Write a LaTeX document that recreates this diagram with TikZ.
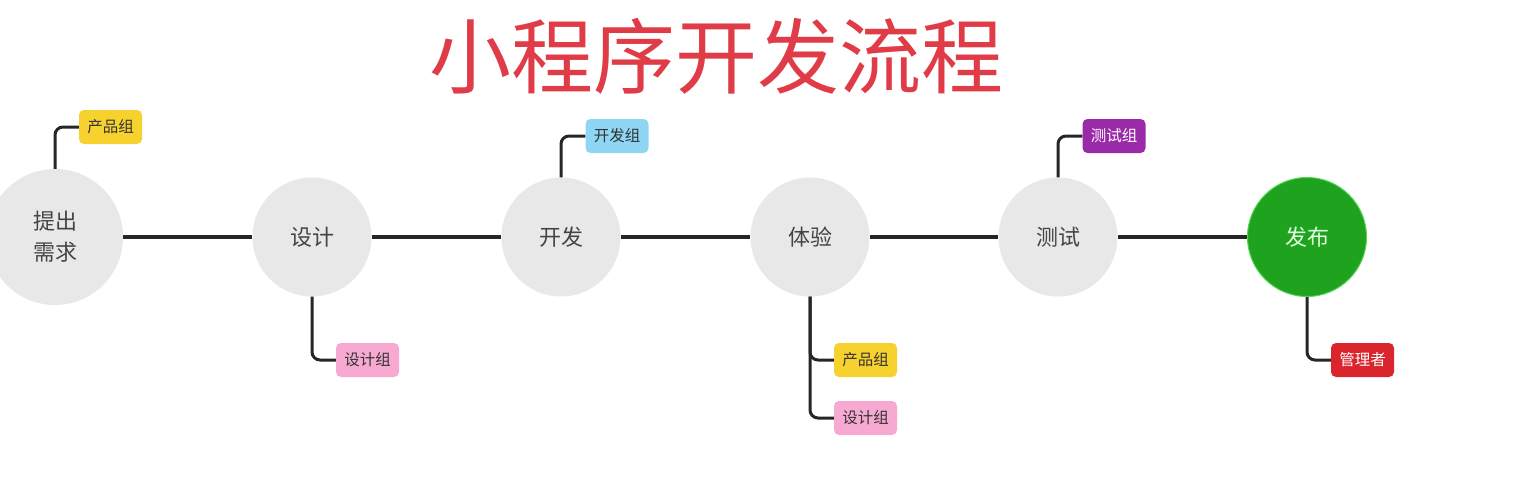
\documentclass[tikz,border=0pt]{standalone}
\usepackage{fontspec}
\setmainfont{Noto Sans CJK SC}
\definecolor{circfill}{HTML}{E8E8E8}
\definecolor{linec}{HTML}{262626}
\definecolor{tyellow}{HTML}{F7D12E}
\definecolor{tpink}{HTML}{F8A9D2}
\definecolor{tblue}{HTML}{8ED6F4}
\definecolor{tpurple}{HTML}{9B2AA8}
\definecolor{tred}{HTML}{D9252B}
\definecolor{pgreen}{HTML}{1FA31F}
\definecolor{pgreenb}{HTML}{55D455}
\definecolor{titlered}{HTML}{E03C48}
\definecolor{ctext}{HTML}{444444}
\begin{document}
\begin{tikzpicture}[x=1pt,y=-1pt,
  stage/.style={circle,fill=circfill,draw=none,minimum size=119pt,inner sep=0pt,
    text=ctext,font=\fontsize{22}{31}\selectfont,align=center},
  tag/.style={rounded corners=5pt,minimum width=63pt,minimum height=34pt,inner sep=0pt,
    text=black!80,font=\fontsize{15.5}{18}\selectfont},
  mainline/.style={draw=linec,line width=4pt},
  tagline/.style={draw=linec,line width=3pt,rounded corners=8pt}]
\useasboundingbox (0,0) rectangle (1535,495);
\fill[white] (0,0) rectangle (1535,495);
\node[text=titlered,font=\fontsize{82}{92}\selectfont,inner sep=0pt] (title) at (716,56) {小程序开发流程};
% stages
\node[stage,minimum size=136pt] (n1) at (55,237) {提出\\需求};
\node[stage] (n2) at (312,237) {设计};
\node[stage] (n3) at (561,237) {开发};
\node[stage] (n4) at (810,237) {体验};
\node[stage] (n5) at (1058,237) {测试};
\node[stage,fill=pgreen,draw=pgreenb,line width=1pt,text=white!88!green] (n6) at (1307,237) {发布};
% main line
\draw[mainline] (n1) -- (n2);
\draw[mainline] (n2) -- (n3);
\draw[mainline] (n3) -- (n4);
\draw[mainline] (n4) -- (n5);
\draw[mainline] (n5) -- (n6);
% tags
\node[tag,fill=tyellow] (t1) at (110.5,127) {产品组};
\node[tag,fill=tpink] (t2) at (367.5,360) {设计组};
\node[tag,fill=tblue] (t3) at (617,136) {开发组};
\node[tag,fill=tyellow] (t4a) at (865.5,360) {产品组};
\node[tag,fill=tpink] (t4b) at (865.5,418) {设计组};
\node[tag,fill=tpurple,text=white] (t5) at (1114,136) {测试组};
\node[tag,fill=tred,text=white] (t6) at (1362.5,360) {管理者};
% tag connectors
\draw[tagline] (n1.north) |- (t1.west);
\draw[tagline] (n2.south) |- (t2.west);
\draw[tagline] (n3.north) |- (t3.west);
\draw[tagline] (n4.south) |- (t4a.west);
\draw[tagline] (n4.south) |- (t4b.west);
\draw[tagline] (n5.north) |- (t5.west);
\draw[tagline] (n6.south) |- (t6.west);
\end{tikzpicture}
\end{document}
